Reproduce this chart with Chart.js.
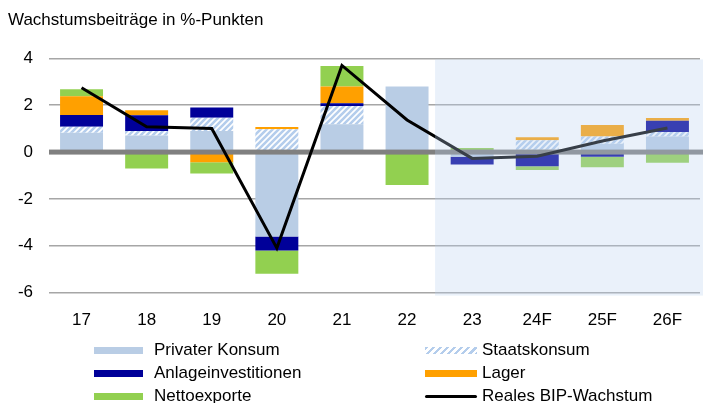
<!DOCTYPE html>
<html>
<head>
<meta charset="utf-8">
<script src="https://cdn.jsdelivr.net/npm/chart.js@4.4.0/dist/chart.umd.min.js"></script>
<style>
  body { margin: 0; background: #fff; overflow: hidden; }
  #wrap { position: relative; width: 703px; height: 403px; }
  #legend { position: absolute; left: 0; top: 0; width: 703px; height: 403px; pointer-events: none;
            font-family: "Liberation Sans", Arial, sans-serif; font-size: 17px; color: #000; }
  .item { position: absolute; white-space: nowrap; line-height: 20px; }
  .sw { position: absolute; }
</style>
</head>
<body>
<div id="wrap">
  <canvas id="chart" width="703" height="403"></canvas>
  <div id="legend"></div>
</div>
<script>
const years = ['17', '18', '19', '20', '21', '22', '23', '24F', '25F', '26F'];
const privaterKonsum      = [0.83, 0.71, 0.90, -3.60, 1.19, 2.80, -0.20, 0.10, 0.36, 0.66];
const staatskonsum        = [0.25, 0.19, 0.57, 0.97, 0.78, 0, 0, 0.40, 0.30, 0.20];
const anlageinvestitionen = [0.50, 0.67, 0.43, -0.60, 0.11, 0, -0.33, -0.60, -0.20, 0.48];
const lager               = [0.80, 0.22, -0.43, 0.10, 0.72, 0, 0, 0.13, 0.50, 0.12];
const nettoexporte        = [0.30, -0.70, -0.48, -1.00, 0.88, -1.41, 0.17, -0.17, -0.45, -0.46];
const realesBip           = [2.75, 1.08, 1.01, -4.10, 3.70, 1.37, -0.27, -0.18, 0.47, 1.03];
const yMin = -6, yMax = 4, yStep = 2;
const forecastStart = 5.43; // category index where the shaded forecast area begins

const FONT = '"Liberation Sans", Arial, sans-serif';
const lightBlue = '#b9cde5';
const hatchBlue = '#b4cdec';

// diagonal hatch for Staatskonsum
function makeHatch() {
    const c = document.createElement('canvas');
    c.width = 6; c.height = 6;
    const x = c.getContext('2d');
    x.fillStyle = '#fff';
    x.fillRect(0, 0, 6, 6);
    x.strokeStyle = hatchBlue;
    x.lineWidth = 2.6;
    x.beginPath();
    x.moveTo(-3, 3); x.lineTo(3, -3);
    x.moveTo(0, 6); x.lineTo(6, 0);
    x.moveTo(3, 9); x.lineTo(9, 3);
    x.stroke();
    return x.createPattern(c, 'repeat');
}
const ctx = document.getElementById('chart').getContext('2d');
const hatch = makeHatch();

const series = [
    { label: 'Privater Konsum', data: privaterKonsum, color: lightBlue },
    { label: 'Staatskonsum', data: staatskonsum, color: hatch, css: 'repeating-linear-gradient(135deg, ' + hatchBlue + ' 0 2.5px, #fff 2.5px 5px)' },
    { label: 'Anlageinvestitionen', data: anlageinvestitionen, color: '#000099' },
    { label: 'Lager', data: lager, color: '#ffa000' },
    { label: 'Nettoexporte', data: nettoexporte, color: '#92d050' }
];

const datasets = series.map(s => ({
    type: 'bar',
    label: s.label,
    data: s.data,
    backgroundColor: s.color,
    borderWidth: 0,
    stack: 'beitraege',
    order: 1,
    barPercentage: 0.66,
    categoryPercentage: 1
}));
datasets.push({
    type: 'line',
    label: 'Reales BIP-Wachstum',
    data: realesBip,
    borderColor: '#000',
    borderWidth: 3,
    pointRadius: 0,
    tension: 0,
    stack: 'bip',
    order: 0
});
const lineIndex = datasets.length - 1;

// zero line between bars and line, forecast shade over everything
const decorations = {
    id: 'decorations',
    beforeDatasetDraw(chart, args) {
        if (args.index !== lineIndex) return;
        const a = chart.chartArea, y0 = chart.scales.y.getPixelForValue(0);
        const c = chart.ctx;
        c.save();
        c.fillStyle = '#808080';
        c.fillRect(a.left, y0 - 2.5, a.right - a.left + 3, 5);
        c.restore();
    },
    afterDatasetsDraw(chart) {
        const a = chart.chartArea;
        const x0 = chart.scales.x.getPixelForValue(forecastStart);
        const c = chart.ctx;
        c.save();
        c.fillStyle = 'rgba(185, 210, 238, 0.3)';
        c.fillRect(x0, a.top + 1, chart.width - x0, a.bottom - a.top + 2);
        c.restore();
    }
};

new Chart(ctx, {
    data: { labels: years, datasets: datasets },
    plugins: [decorations],
    options: {
        responsive: false,
        animation: false,
        devicePixelRatio: 1,
        layout: { padding: { left: 8, right: 3, top: 0, bottom: 62 } },
        plugins: {
            legend: { display: false },
            tooltip: { enabled: false },
            title: {
                display: true,
                text: 'Wachstumsbeiträge in %-Punkten',
                align: 'start',
                color: '#000',
                font: { family: FONT, size: 17, weight: 'normal', lineHeight: 1.2 },
                padding: { top: 10, bottom: 28 }
            }
        },
        scales: {
            x: {
                stacked: true,
                grid: { display: false },
                border: { display: false },
                ticks: { color: '#000', font: { family: FONT, size: 17 }, padding: 10, maxRotation: 0 }
            },
            y: {
                stacked: true,
                min: yMin,
                max: yMax,
                afterFit(scale) { scale.width = 41; },
                grid: { color: '#a6a6a6', lineWidth: 1.5, drawTicks: false },
                border: { display: false },
                ticks: { stepSize: yStep, color: '#000', font: { family: FONT, size: 17 }, padding: 16 }
            }
        }
    }
});

// legend in two columns
const legendItems = series.map(s => ({ label: s.label, bg: s.css || s.color, h: 7 }));
legendItems.push({ label: 'Reales BIP-Wachstum', bg: '#000', h: 3 });
const cols = [{ sw: 94, sww: 49, tx: 154 }, { sw: 425, sww: 52, tx: 482 }];
const rows = [350, 373, 396];
const leg = document.getElementById('legend');
legendItems.forEach((it, i) => {
    const col = cols[i % 2], cy = rows[Math.floor(i / 2)];
    const sw = document.createElement('div');
    sw.className = 'sw';
    sw.style.left = col.sw + 'px';
    sw.style.width = col.sww + 'px';
    sw.style.top = (cy - it.h / 2) + 'px';
    sw.style.height = it.h + 'px';
    sw.style.background = it.bg;
    if (it.h === 3) sw.style.borderRadius = '2px';
    const tx = document.createElement('div');
    tx.className = 'item';
    tx.style.left = col.tx + 'px';
    tx.style.top = (cy - 10) + 'px';
    tx.textContent = it.label;
    leg.appendChild(sw);
    leg.appendChild(tx);
});
</script>
</body>
</html>
